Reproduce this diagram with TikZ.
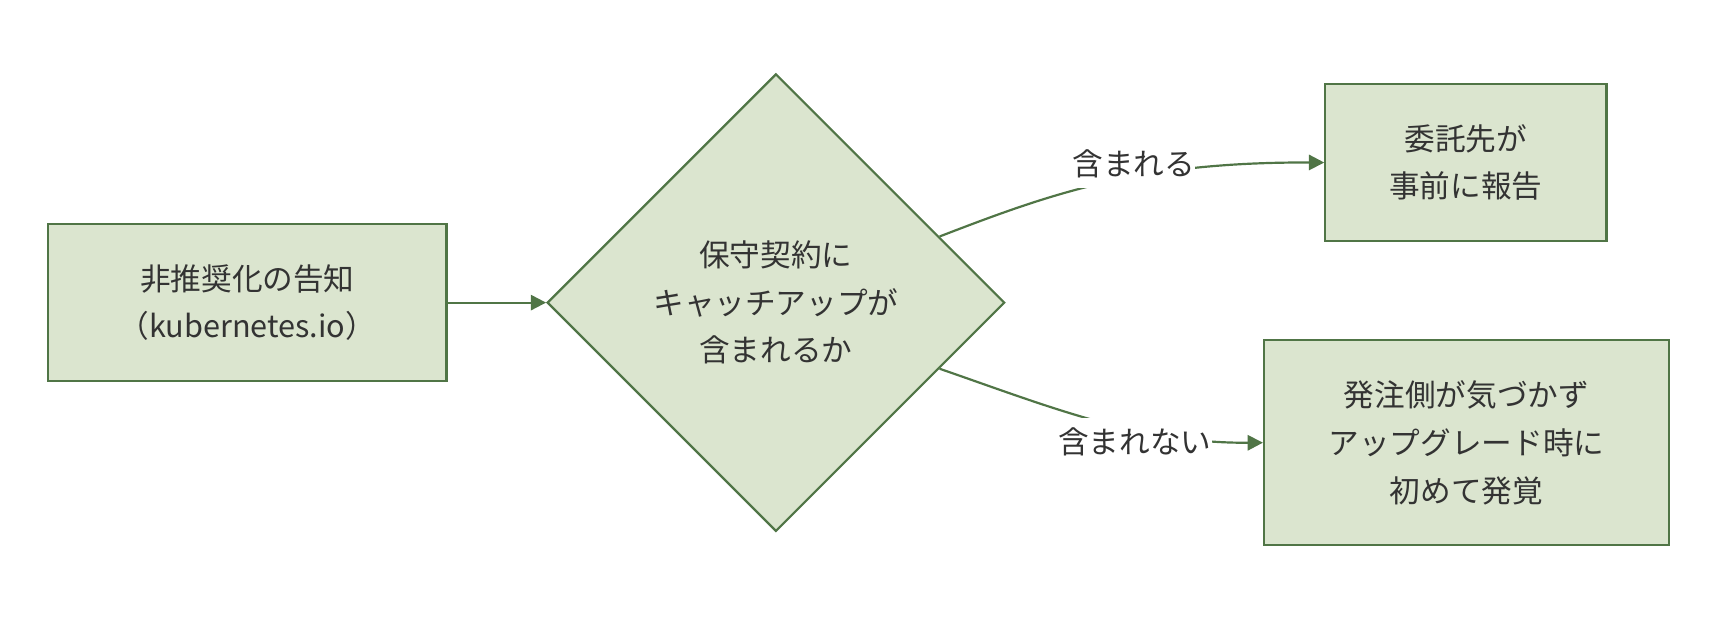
\documentclass[tikz,border=0pt]{standalone}
\usepackage{fontspec}
\setmainfont{Noto Sans CJK JP}
\usepackage{tikz}
\usetikzlibrary{shapes.geometric,arrows.meta}

\definecolor{boxfill}{RGB}{219,229,207}
\definecolor{boxline}{RGB}{80,117,70}
\definecolor{textgray}{RGB}{51,51,51}

\begin{document}
\begin{tikzpicture}[x=0.5pt,y=-0.5pt]
		% Define styles for boxes, the decision and the connectors
		\tikzset{stepbox/.style={draw=boxline, fill=boxfill, line width=1pt, text=textgray, align=center, inner sep=0pt, font=\fontsize{14pt}{21.8pt}\selectfont},
			decision/.style={stepbox, diamond, aspect=1},
			flow/.style={draw=boxline, line width=1pt, -{Triangle[length=7pt,width=7pt]}},
			edgelabel/.style={fill=white, text=textgray, inner xsep=0pt, inner ysep=0pt, minimum height=22pt, font=\fontsize{14pt}{17pt}\selectfont}}
		
		% Fix the margins
		\useasboundingbox (0,0) rectangle (1568,570);
		
		% Draw the notice box and the decision
		\node[stepbox, minimum width=182pt, minimum height=71.5pt] (notice) at (226,276.5) {非推奨化の告知\\（kubernetes.io）};
		\node[decision, minimum width=209pt, minimum height=209pt] (contract) at (709,276.5) {保守契約に\\キャッチアップが\\含まれるか};
		
		% Draw the two outcomes
		\node[stepbox, minimum width=128.5pt, minimum height=71.5pt] (report) at (1339.5,148.5) {委託先が\\事前に報告};
		\node[stepbox, minimum width=185pt, minimum height=93.5pt] (late) at (1340,404.5) {発注側が気づかず\\アップグレード時に\\初めて発覚};
		
		% Connect the nodes
		\draw[flow] (notice) -- (contract);
		\draw[flow] (contract.22) .. controls (960,177) and (1040,148) .. (report.west);
		\draw[flow] (contract.-22) .. controls (960,372) and (1040,405) .. (late.west);
		
		% Add labels on the connectors
		\node[edgelabel] (yes) at (1036,150) {含まれる};
		\node[edgelabel] (no) at (1037,404) {含まれない};
	\end{tikzpicture}
\end{document}
